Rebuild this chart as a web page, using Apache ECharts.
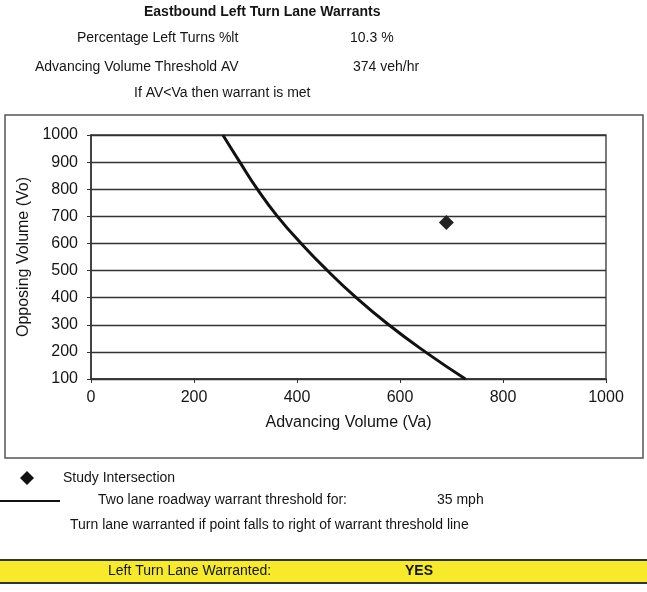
<!DOCTYPE html>
<html><head><meta charset="utf-8">
<script src="https://cdn.jsdelivr.net/npm/echarts@6/dist/echarts.min.js"></script>
<style>html,body{margin:0;padding:0;background:#fff}#c{width:647px;height:592px}</style>
</head><body><div id="c"></div>
<script>
// Data
var curveVa = [256, 289, 323, 362, 408, 459, 515, 578, 649, 727];
var curveVo = [1000, 900, 800, 700, 600, 500, 400, 300, 200, 100];
var studyVa = [690];
var studyVo = [677];
var xTicks = [0, 200, 400, 600, 800, 1000];
var yTicks = [100, 200, 300, 400, 500, 600, 700, 800, 900, 1000];
var pctLeft = '10.3 %';
var avThreshold = '374 veh/hr';
var speed = '35 mph';
var warranted = 'YES';

var FF = "'Liberation Sans', Arial, sans-serif";
var TC = '#151515';
function txt(x, y, s, size, opts) {
  opts = opts || {};
  return { type: 'text', x: x, y: y, z: 10, style: { text: s, fontFamily: FF, fontSize: size, fontWeight: opts.bold ? 'bold' : 'normal', fill: TC, textAlign: opts.align || 'left', textVerticalAlign: 'middle' } };
}

var chart = echarts.init(document.getElementById('c'), null, { renderer: 'canvas' });
chart.setOption({
  animation: false,
  backgroundColor: '#fff',
  grid: { left: 91, right: 41, top: 135, bottom: 213, show: true, borderColor: '#333', borderWidth: 1.3 },
  xAxis: {
    type: 'value', min: xTicks[0], max: xTicks[xTicks.length - 1], interval: 200,
    name: 'Advancing Volume (Va)', nameLocation: 'middle', nameGap: 36,
    nameTextStyle: { fontFamily: FF, fontSize: 16, color: TC },
    axisLine: { show: true, lineStyle: { color: '#333', width: 1.5 } },
    axisTick: { show: true, length: 4, lineStyle: { color: '#333' } },
    axisLabel: { fontFamily: FF, fontSize: 16, color: TC, margin: 11, formatter: function (v) { return String(v); } },
    splitLine: { show: false }
  },
  yAxis: {
    type: 'value', min: yTicks[0], max: yTicks[yTicks.length - 1], interval: 100,
    name: 'Opposing Volume (Vo)', nameLocation: 'middle', nameGap: 59, nameRotate: 90,
    nameTextStyle: { fontFamily: FF, fontSize: 16, color: TC },
    axisLine: { show: true, lineStyle: { color: '#333', width: 1.5 } },
    axisTick: { show: true, length: 4, lineStyle: { color: '#333' } },
    axisLabel: { fontFamily: FF, fontSize: 16, color: TC, margin: 13, formatter: function (v) { return String(v); } },
    splitLine: { show: true, lineStyle: { color: '#333', width: 1.4 } }
  },
  series: [
    { type: 'line', data: curveVa.map(function (v, i) { return [v, curveVo[i]]; }), smooth: true, showSymbol: false, lineStyle: { color: '#111', width: 3 }, z: 3 },
    { type: 'scatter', data: studyVa.map(function (v, i) { return [v, studyVo[i]]; }), symbol: 'diamond', symbolSize: 15, itemStyle: { color: '#222', opacity: 1 }, z: 4 }
  ],
  graphic: [
    { type: 'rect', shape: { x: 5, y: 115, width: 638, height: 343 }, style: { fill: 'none', stroke: '#555', lineWidth: 1.5 }, z: 1 },
    txt(144, 12, 'Eastbound Left Turn Lane Warrants', 14, { bold: true }),
    txt(77, 38, 'Percentage Left Turns %lt', 14),
    txt(350, 38, pctLeft, 14),
    txt(35, 67, 'Advancing Volume Threshold AV', 14),
    txt(353, 67, avThreshold, 14),
    txt(134, 93, 'If AV<Va then warrant is met', 14),
    { type: 'polygon', shape: { points: [[27, 471], [34, 478], [27, 485], [20, 478]] }, style: { fill: '#111' }, z: 10 },
    txt(63, 478, 'Study Intersection', 14),
    { type: 'line', shape: { x1: 0, y1: 501, x2: 60, y2: 501 }, style: { stroke: '#111', lineWidth: 2 }, z: 10 },
    txt(98, 500, 'Two lane roadway warrant threshold for:', 14),
    txt(437, 500, speed, 14),
    txt(70, 525, 'Turn lane warranted if point falls to right of warrant threshold line', 14),
    { type: 'rect', shape: { x: 0, y: 560, width: 647, height: 23 }, style: { fill: '#f6ea2b' }, z: 5 },
    { type: 'line', shape: { x1: 0, y1: 560, x2: 647, y2: 560 }, style: { stroke: '#333', lineWidth: 2 }, z: 6 },
    { type: 'line', shape: { x1: 0, y1: 583, x2: 647, y2: 583 }, style: { stroke: '#333', lineWidth: 2 }, z: 6 },
    txt(108, 571, 'Left Turn Lane Warranted:', 14),
    txt(405, 571, warranted, 14, { bold: true })
  ]
});
</script></body></html>
